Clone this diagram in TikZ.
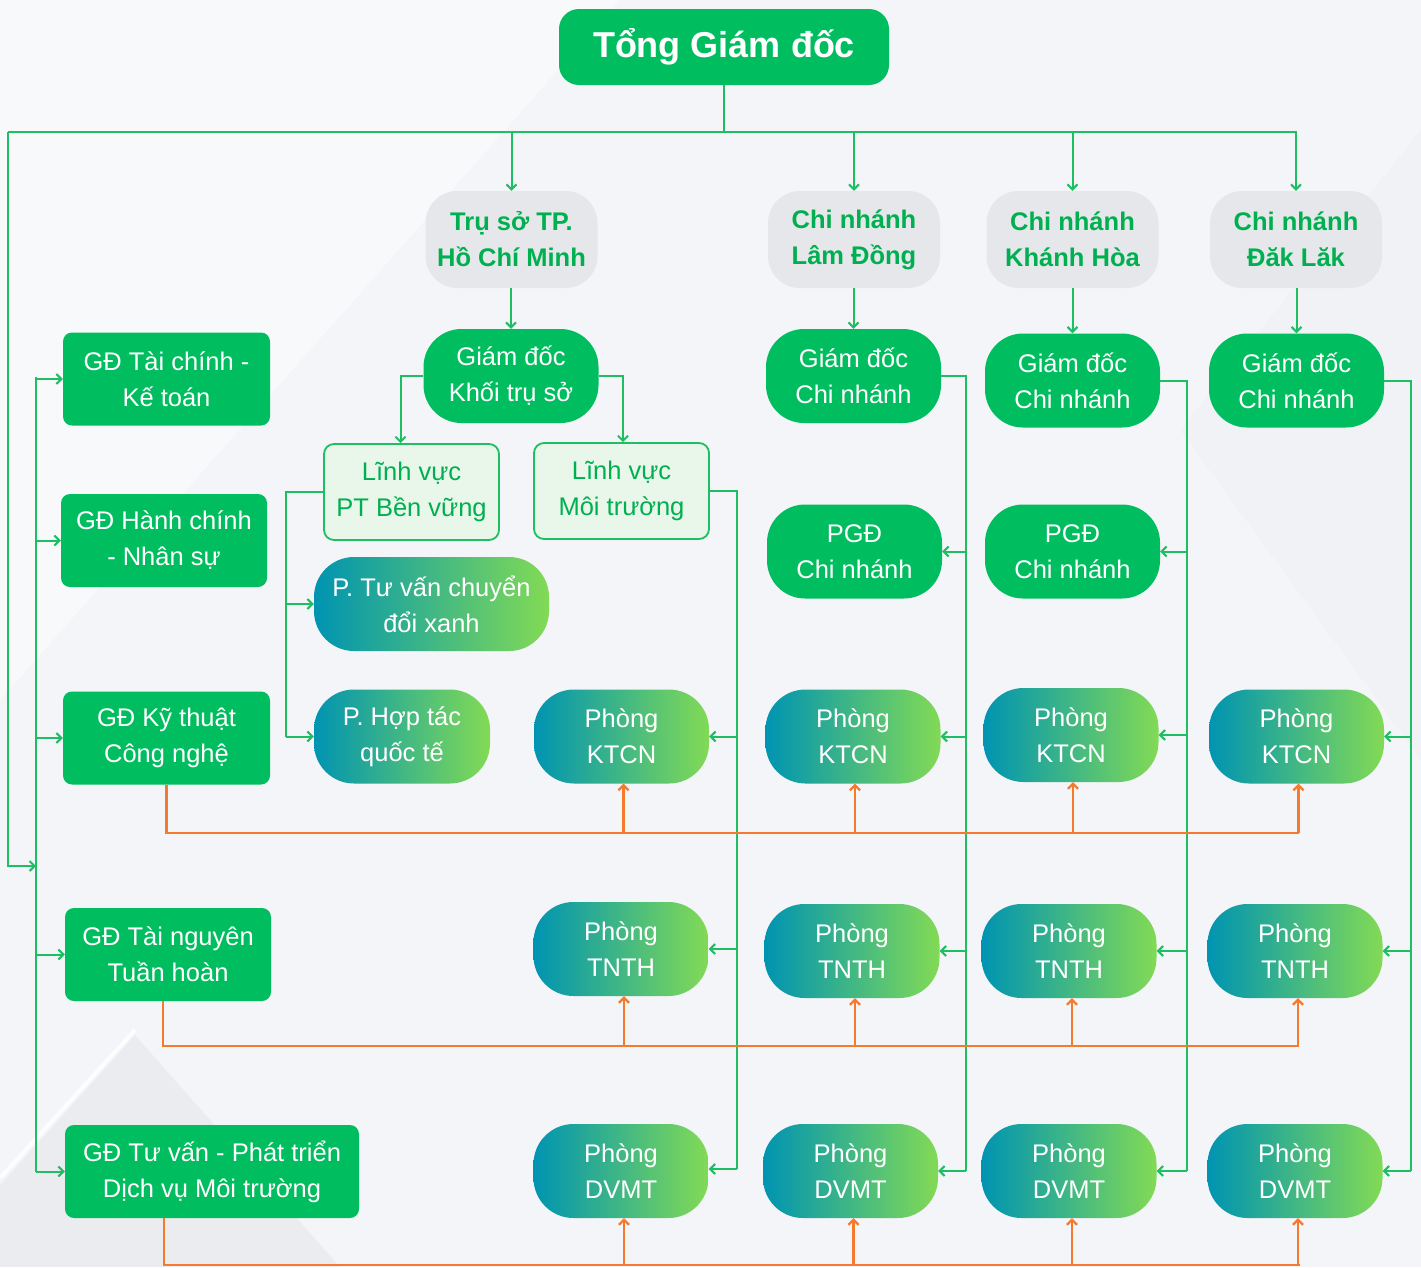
\documentclass[tikz,border=0pt]{standalone}
\usepackage{fontspec}
\setmainfont{Liberation Sans}
\usetikzlibrary{arrows.meta,calc}
\definecolor{gfill}{HTML}{00BE5F}
\definecolor{gline}{HTML}{1DBF62}
\definecolor{gtext}{HTML}{00B050}
\definecolor{grayfill}{HTML}{E6E7EB}
\definecolor{fieldfill}{HTML}{E9F6EA}
\definecolor{tealc}{HTML}{0094B2}
\definecolor{limec}{HTML}{82DA55}
\definecolor{orangec}{HTML}{F57A2C}
\definecolor{bgc}{HTML}{F4F5F8}
\begin{document}
\begin{tikzpicture}[x=1pt,y=-1pt,
  every node/.style={align=center, inner sep=0pt, font=\fontsize{25.5}{36}\selectfont},
  topbox/.style={fill=gfill, rounded corners=20pt, minimum width=330pt, minimum height=76pt, text=white, font=\fontsize{36}{40}\selectfont\bfseries},
  branch/.style={fill=grayfill, rounded corners=32pt, minimum width=172pt, minimum height=97pt, text=gtext, font=\fontsize{25.5}{36}\selectfont\bfseries},
  gdpill/.style={fill=gfill, rounded corners=38pt, minimum width=175pt, minimum height=94pt, text=white},
  leftbox/.style={fill=gfill, rounded corners=9pt, minimum height=93pt, text=white},
  field/.style={fill=fieldfill, draw=gline, line width=1.8pt, rounded corners=10pt, minimum width=175pt, minimum height=96pt, text=gtext},
  dept/.style={left color=tealc, right color=limec, rounded corners=40pt, minimum width=175pt, minimum height=94pt, text=white},
  gl/.style={draw=gline, line width=2pt},
  garrow/.style={gl, -{Straight Barb[length=5pt,width=10pt]}},
  ol/.style={draw=orangec, line width=2.2pt},
  oarrow/.style={ol, -{Straight Barb[length=5pt,width=10pt]}}
]
\useasboundingbox (0,0) rectangle (1421,1267);
\fill[bgc] (0,0) rectangle (1421,1267);
\fill[white, opacity=0.45] (0,0) -- (620,0) -- (0,700) -- cycle;
\fill[black, opacity=0.035] (0,1185) -- (135,1035) -- (340,1267) -- (0,1267) -- cycle;
\draw[white, line width=4pt, opacity=0.8] (0,1178) -- (135,1030);
\fill[black, opacity=0.012] (1180,430) -- (1421,130) -- (1421,760) -- cycle;

% nodes
\node[topbox] (top) at (724,47) {Tổng Giám đốc};
\node[branch] (b1) at (511.5,239.5) {Trụ sở TP.\\Hồ Chí Minh};
\node[branch] (b2) at (854,239.5) {Chi nhánh\\Lâm Đồng};
\node[branch] (b3) at (1072.5,239.5) {Chi nhánh\\Khánh Hòa};
\node[branch] (b4) at (1296,239.5) {Chi nhánh\\Đăk Lăk};

\node[gdpill] (g1) at (511,376) {Giám đốc\\Khối trụ sở};
\node[gdpill] (g2) at (853.5,376) {Giám đốc\\Chi nhánh};
\node[gdpill] (g3) at (1072.5,380.5) {Giám đốc\\Chi nhánh};
\node[gdpill] (g4) at (1296.5,380.5) {Giám đốc\\Chi nhánh};

\node[leftbox, minimum width=207pt] (l1) at (166.5,379) {GĐ Tài chính -\\Kế toán};
\node[leftbox, minimum width=206pt] (l2) at (164,540.5) {GĐ Hành chính\\- Nhân sự};
\node[leftbox, minimum width=207pt] (l3) at (166.5,738) {GĐ Kỹ thuật\\Công nghệ};
\node[leftbox, minimum width=206pt] (l4) at (168,954.5) {GĐ Tài nguyên\\Tuần hoàn};
\node[leftbox, minimum width=294pt] (l5) at (212,1171.5) {GĐ Tư vấn - Phát triển\\Dịch vụ Môi trường};

\node[field] (f1) at (411.5,492) {Lĩnh vực\\PT Bền vững};
\node[field] (f2) at (621.5,491) {Lĩnh vực\\Môi trường};

\node[dept, minimum width=235pt] (p1) at (431.5,604) {P. Tư vấn chuyển\\đổi xanh};
\node[dept, minimum width=176pt] (p2) at (402,736.5) {P. Hợp tác\\quốc tế};

\node[gdpill] (q2) at (854.5,551.5) {PGĐ\\Chi nhánh};
\node[gdpill] (q3) at (1072.5,551.5) {PGĐ\\Chi nhánh};

\node[dept] (k1) at (621.5,736.5) {Phòng\\KTCN};
\node[dept] (k2) at (853,736.5) {Phòng\\KTCN};
\node[dept] (k3) at (1071,735) {Phòng\\KTCN};
\node[dept] (k4) at (1296.5,736.5) {Phòng\\KTCN};

\node[dept] (t1) at (621,949) {Phòng\\TNTH};
\node[dept] (t2) at (852,951) {Phòng\\TNTH};
\node[dept] (t3) at (1069,951) {Phòng\\TNTH};
\node[dept] (t4) at (1295,951) {Phòng\\TNTH};

\node[dept] (d1) at (621,1171) {Phòng\\DVMT};
\node[dept] (d2) at (850.5,1171) {Phòng\\DVMT};
\node[dept] (d3) at (1069,1171) {Phòng\\DVMT};
\node[dept] (d4) at (1295,1171) {Phòng\\DVMT};

% top bus
\coordinate (busL) at (8,132);
\coordinate (busR) at (1297,132);
\draw[gl] (top.south) -- (top.south |- busL);
\draw[gl] (busL) -- (busR);
\foreach \b in {b1,b2,b3,b4} \draw[garrow] (\b.north |- busL) -- (\b.north);
\draw[garrow] (g1.north |- b1.south) -- (g1.north);
\draw[garrow] (g2.north |- b2.south) -- (g2.north);
\draw[garrow] (g3.north |- b3.south) -- (g3.north);
\draw[garrow] (g4.north |- b4.south) -- (g4.north);

% left spine
\coordinate (lx) at (36,377);
\coordinate (lj) at (36,866);
\draw[gl] (lx) -- (l5.west -| lx);
\draw[garrow] (busL) |- (lj);
\foreach \l in {l1,l2,l3,l4,l5} \draw[garrow] (\l.west -| lx) -- (\l.west);

% head office
\draw[garrow] (g1.west) -| ([xshift=-11pt]f1.north);
\draw[garrow] (g1.east) -| ([xshift=1.5pt]f2.north);
\coordinate (fx) at (286,0);
\draw[gl] (f1.west) -- (f1.west -| fx) -- (p2.west -| fx);
\draw[garrow] (p1.west -| fx) -- (p1.west);
\draw[garrow] (p2.west -| fx) -- (p2.west);

\coordinate (c1) at (737,0);
\draw[gl] (f2.east) -- (f2.east -| c1) -- ([yshift=2pt]d1.east -| c1);
\foreach \n in {k1,t1} \draw[garrow] (\n.east -| c1) -- (\n.east);
\draw[garrow] ([yshift=2pt]d1.east -| c1) -- ([yshift=2pt]d1.east);

\coordinate (c2) at (966,0);
\draw[gl] (g2.east) -- (g2.east -| c2) -- (d2.east -| c2);
\foreach \n in {q2,k2,t2,d2} \draw[garrow] (\n.east -| c2) -- (\n.east);

\coordinate (c3) at (1187,0);
\draw[gl] (g3.east) -- (g3.east -| c3) -- (d3.east -| c3);
\foreach \n in {q3,k3,t3,d3} \draw[garrow] (\n.east -| c3) -- (\n.east);

\coordinate (c4) at (1411,0);
\draw[gl] (g4.east) -- (g4.east -| c4) -- (d4.east -| c4);
\foreach \n in {k4,t4,d4} \draw[garrow] (\n.east -| c4) -- (\n.east);

% orange buses
\coordinate (o1) at (0,833);
\draw[ol] (l3.south) |- ([xshift=2pt]k4.south |- o1);
\foreach \n in {k1,k2,k3,k4} \draw[oarrow] ([xshift=2pt]\n.south |- o1) -- ([xshift=2pt]\n.south);

\coordinate (o2) at (0,1046);
\draw[ol] ([xshift=-5pt]l4.south) |- ([xshift=4pt]t4.south |- o2);
\foreach \n in {t1,t2,t3,t4} \draw[oarrow] ([xshift=3pt]\n.south |- o2) -- ([xshift=3pt]\n.south);

\coordinate (o3) at (0,1265);
\draw[ol] ($(l5.south west)+(99,0)$) |- ([xshift=5pt]d4.south |- o3);
\foreach \n in {d1,d2,d3,d4} \draw[oarrow] ([xshift=3pt]\n.south |- o3) -- ([xshift=3pt]\n.south);
\end{tikzpicture}
\end{document}
